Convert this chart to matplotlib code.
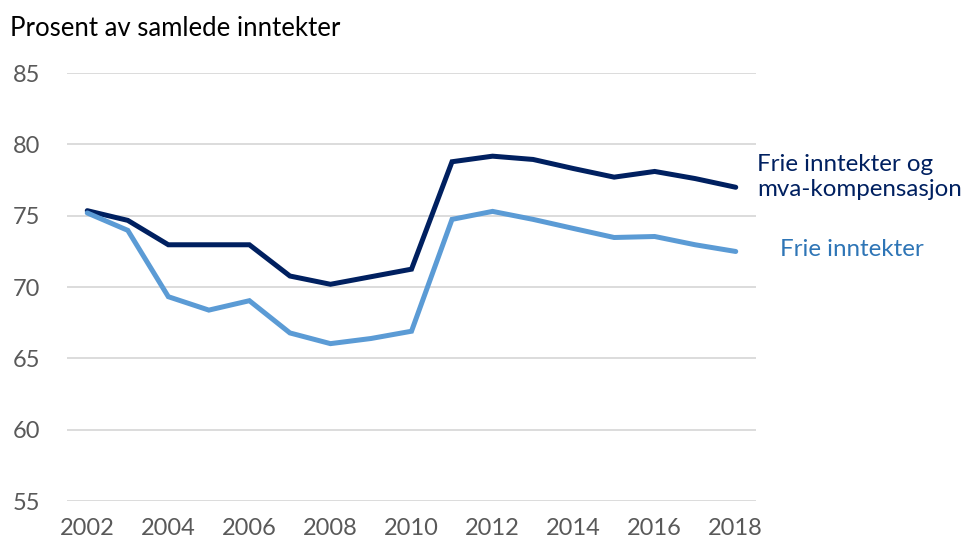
import matplotlib
matplotlib.use("Agg")
import matplotlib.pyplot as plt

years = list(range(2002, 2019))
frie_mva = [75.35, 74.67, 72.96, 72.96, 72.96, 70.77, 70.19, 70.72, 71.25, 78.78,
            79.17, 78.94, 78.3, 77.7, 78.1, 77.6, 76.99]
frie = [75.19, 73.97, 69.32, 68.38, 69.04, 66.78, 66.03, 66.39, 66.9, 74.74,
        75.3, 74.74, 74.1, 73.47, 73.54, 72.96, 72.49]
yticks = [55, 60, 65, 70, 75, 80, 85]
xticks = list(range(2002, 2019, 2))

plt.rcParams['font.family'] = ['Lato', 'DejaVu Sans']

fig = plt.figure(figsize=(9.66, 5.47), dpi=100)
ax = fig.add_axes([67/966, 1-501/547, (756-67)/966, (501-73)/547])

dark = '#002060'
light = '#5B9BD5'
ax.plot(years, frie_mva, color=dark, lw=3.6, solid_capstyle='round', solid_joinstyle='miter', zorder=3)
ax.plot(years, frie, color=light, lw=3.6, solid_capstyle='round', solid_joinstyle='miter', zorder=3)

ax.set_xlim(2001.5, 2018.5)
ax.set_ylim(55, 85)
ax.set_yticks(yticks)
ax.set_xticks(xticks)
ax.grid(axis='y', color='#D9D9D9', lw=1.3)
ax.set_axisbelow(True)
for s in ax.spines.values():
    s.set_visible(False)
ax.tick_params(length=0, labelsize=17, labelcolor='#595959')
ax.tick_params(axis='y', pad=19)
ax.tick_params(axis='x', pad=12)

fig.text(10/966, 1-28/547, 'Prosent av samlede inntekter', fontsize=18.5, color='#000000', va='center', ha='left')
fig.text(757/966, 1-177/547, 'Frie inntekter og\nmva-kompensasjon', fontsize=17.4, color=dark, va='center', ha='left', linespacing=1.25)
fig.text(780/966, 1-250/547, 'Frie inntekter', fontsize=17.4, color='#2E75B6', va='center', ha='left')

fig.savefig('out.png', dpi=100)
